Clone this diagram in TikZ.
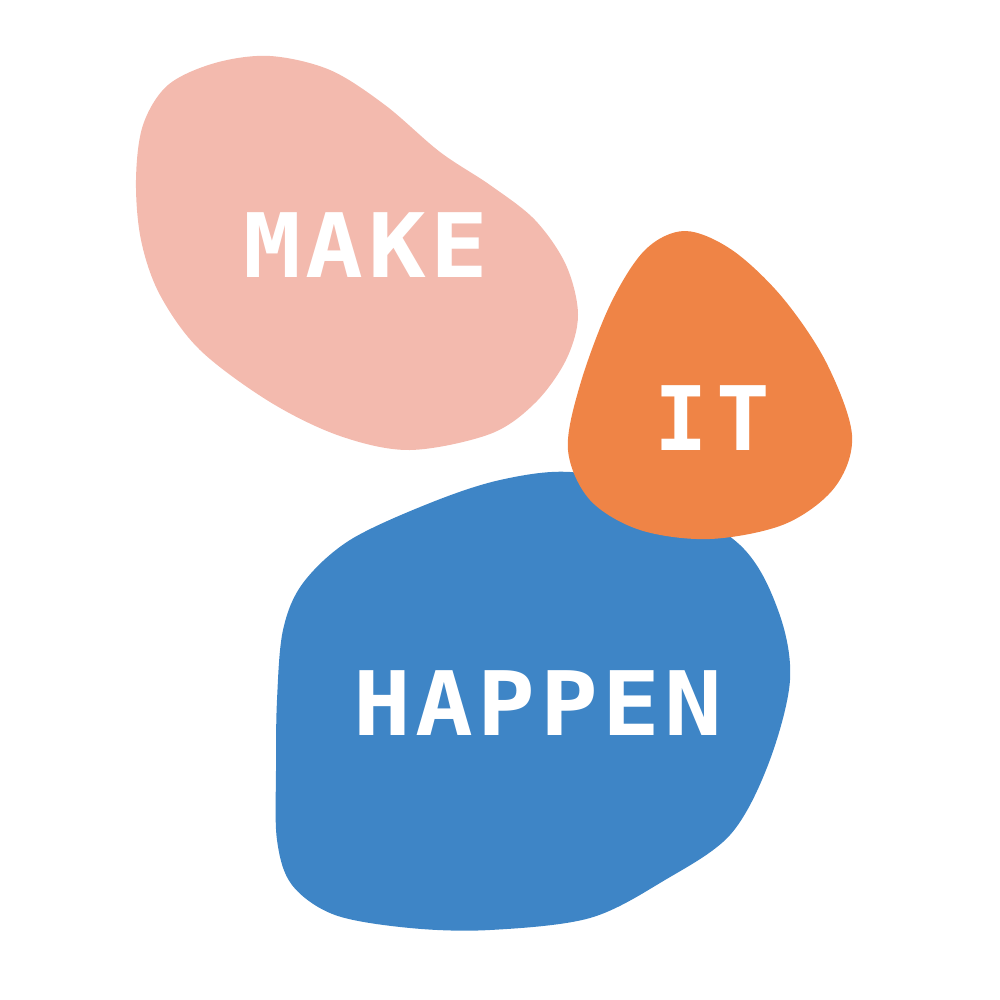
\documentclass[tikz,border=0pt]{standalone}
\usepackage{fontspec}
\newfontfamily\blobfont[LetterSpace=5,FakeStretch=1.08]{DejaVu Sans Mono Bold}
\newfontfamily\itfont[LetterSpace=9.5]{DejaVu Sans Mono Bold}
\definecolor{blobpink}{HTML}{F3BAAE}
\definecolor{bloborange}{HTML}{EF8446}
\definecolor{blobblue}{HTML}{3E85C6}
\tikzset{
  blobtext/.style={text=white, inner sep=0pt, font=\blobfont\fontsize{25.3pt}{30pt}\selectfont},
  ittext/.style={text=white, inner sep=0pt, font=\itfont\fontsize{25.3pt}{30pt}\selectfont},
}
\begin{document}
\begin{tikzpicture}[x=0.01cm, y=-0.01cm]
\useasboundingbox (0,0) rectangle (1000,1000);
% pink blob
\fill[blobpink] plot[smooth cycle, tension=0.55] coordinates {
  (136,180) (143,125) (168,85) (215,63) (270,56) (330,70) (385,105) (440,152) (490,185) (535,220)
  (566,265) (578,315) (566,360) (535,403) (490,434) (410,450) (340,436) (270,402) (200,350) (160,295) (141,240)};
% blue blob
\fill[blobblue] plot[smooth cycle, tension=0.55] coordinates {
  (570,472) (500,480) (430,503) (350,540) (303,583) (283,630) (277,700) (276,770) (277,840)
  (292,885) (335,915) (410,928) (490,930) (590,918) (665,880) (730,835) (768,765)
  (790,680) (778,610) (740,545) (650,490)};
% orange blob
\fill[bloborange] plot[smooth cycle, tension=0.55] coordinates {
  (685,231) (732,250) (782,297) (826,362) (852,435) (835,487) (785,524) (710,539)
  (640,530) (590,500) (568,450) (580,385) (610,305) (645,250)};
\node[blobtext] (make) at (366,245) {MAKE};
\node[ittext] (it) at (712,418) {IT};
\node[blobtext] (happen) at (538,703) {HAPPEN};
\end{tikzpicture}
\end{document}
